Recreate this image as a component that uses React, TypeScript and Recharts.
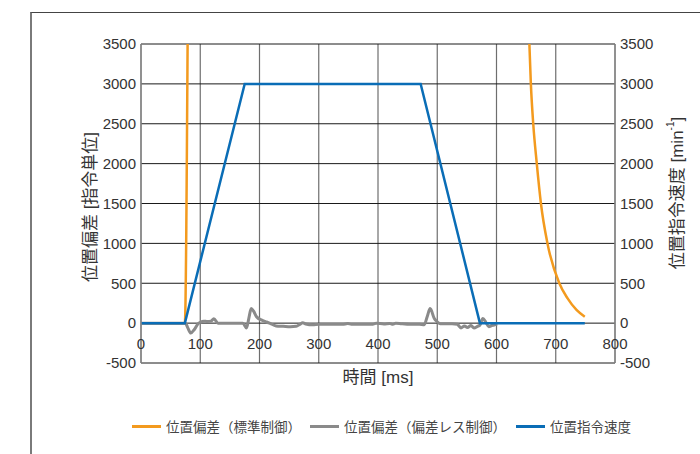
import React from 'react';
import { ComposedChart, Line, XAxis, YAxis, CartesianGrid, Legend } from 'recharts';

const xTicks = [0, 100, 200, 300, 400, 500, 600, 700, 800];
const yTicks = [-500, 0, 500, 1000, 1500, 2000, 2500, 3000, 3500];

// 位置偏差（標準制御）
const stdTime = [0, 74, 79, 80, 653, 655.5, 658, 662, 668, 675, 686, 706, 720, 735, 749];
const stdDev = [0, 0, 3900, null, 4100, 3500, 3000, 2500, 2000, 1500, 1000, 500, 310, 165, 80];

// 位置偏差（偏差レス制御）
const lessTime = [0, 75, 79, 84, 90, 96, 100, 106, 112, 118, 123, 130, 150, 172, 178, 182, 186, 190, 195, 204, 210, 217, 228, 240, 252, 262, 268, 273, 278, 290, 300, 320, 340, 349, 355, 370, 391, 397, 410, 420, 425, 430, 440, 455, 470, 478, 483, 488, 495, 500, 505, 515, 525, 534, 540, 546, 551, 557, 562, 568, 572, 577, 582, 587, 592, 596, 601];
const lessDev = [0, 0, -60, -125, -80, -10, 10, 25, 20, 25, 55, 0, 0, 0, -60, 60, 183, 150, 80, 37, 20, 0, -35, -40, -45, -40, -15, 5, -10, -20, -15, -15, -15, -5, -15, -15, -15, 0, -10, -5, -15, 0, -8, -15, -15, -20, 80, 183, 58, 17, -8, -8, -8, -15, -60, -35, -55, -30, -60, -40, -25, 58, 10, -45, -30, -25, -10];

// 位置指令速度
const cmdTime = [0, 74, 175, 472, 572, 749];
const cmdSpeed = [0, 0, 3000, 3000, 0, 0];

const seriesNames = ['位置偏差（標準制御）', '位置偏差（偏差レス制御）', '位置指令速度'];
const seriesColors = ['#F39A1E', '#8A8A8A', '#0A6DB6'];

const zip = (ts: number[], vs: (number | null)[]) => ts.map((t, i) => ({ t, v: vs[i] }));
const stdData = zip(stdTime, stdDev);
const lessData = zip(lessTime, lessDev);
const cmdData = zip(cmdTime, cmdSpeed);

const FONT = '"Liberation Sans", Arial, "Noto Sans CJK JP", sans-serif';
const TEXT = '#333';

const XTick = (props: any) => {
  const { x, y, payload } = props;
  return (
    <text x={x} y={y - 14} textAnchor="middle" fontSize={15} fill={TEXT} fontFamily={FONT}>
      {payload.value}
    </text>
  );
};

const XLabel = () => (
  <text x={378} y={383} textAnchor="middle" fontSize={17} fill={TEXT} fontFamily={FONT}>
    時間 [ms]
  </text>
);

const LeftLabel = () => (
  <text
    transform="translate(90,207) rotate(-90)"
    textAnchor="middle"
    dominantBaseline="central"
    fontSize={17}
    fill={TEXT}
    fontFamily={FONT}
  >
    位置偏差 [指令単位]
  </text>
);

const RightLabel = () => (
  <text
    transform="translate(677,193) rotate(-90)"
    textAnchor="middle"
    dominantBaseline="central"
    fontSize={17}
    fill={TEXT}
    fontFamily={FONT}
  >
    位置指令速度 [min<tspan dy={-7} fontSize={10}>-1</tspan>
    <tspan dy={7}>]</tspan>
  </text>
);

const legendLeft = [132, 310, 516];

const LegendContent = () => (
  <div style={{ position: 'relative', width: 700, height: 30 }}>
    {seriesNames.map((n, i) => (
      <div
        key={n}
        style={{
          position: 'absolute',
          left: legendLeft[i],
          top: 0,
          height: 30,
          display: 'flex',
          alignItems: 'center',
          whiteSpace: 'nowrap',
        }}
      >
        <span style={{ display: 'inline-block', width: 29, height: 3, background: seriesColors[i], marginRight: 5 }} />
        <span style={{ fontSize: 13.5, color: '#444', fontFamily: FONT }}>{n}</span>
      </div>
    ))}
  </div>
);

export default function App() {
  return (
    <div style={{ position: 'absolute', left: 0, top: 0, width: 700, height: 454, overflow: 'hidden', background: '#fff' }}>
      <div
        style={{
          position: 'absolute',
          left: 30,
          top: 12,
          width: 680,
          height: 460,
          borderLeft: '2px solid #7a7a7a',
          borderTop: '1px solid #444',
        }}
      />
      <div style={{ position: 'absolute', left: 0, top: 0 }}>
        <ComposedChart width={700} height={454} margin={{ top: 44, right: 0, bottom: 51, left: 0 }}>
          <CartesianGrid yAxisId="left" horizontal={false} stroke="#6e6e6e" strokeWidth={1.2} />
          <CartesianGrid yAxisId="left" vertical={false} stroke="#1a1a1a" strokeWidth={1} />
          <XAxis
            type="number"
            dataKey="t"
            domain={[0, 800]}
            ticks={xTicks}
            interval={0}
            allowDataOverflow
            axisLine={false}
            tickLine={false}
            tickSize={0}
            tickMargin={0}
            height={40}
            tick={<XTick />}
            label={<XLabel />}
          />
          <YAxis
            yAxisId="left"
            type="number"
            domain={[-500, 3500]}
            ticks={yTicks}
            interval={0}
            allowDataOverflow
            width={141}
            tickSize={0}
            tickMargin={5}
            tickLine={false}
            axisLine={{ stroke: '#8a8a8a', strokeWidth: 1.5 }}
            tick={{ fontSize: 15, fill: TEXT, fontFamily: FONT }}
            label={<LeftLabel />}
          />
          <YAxis
            yAxisId="right"
            orientation="right"
            type="number"
            domain={[-500, 3500]}
            ticks={yTicks}
            interval={0}
            allowDataOverflow
            width={85}
            tickSize={0}
            tickMargin={5}
            tickLine={false}
            axisLine={{ stroke: '#8a8a8a', strokeWidth: 1.5 }}
            tick={{ fontSize: 15, fill: TEXT, fontFamily: FONT, textAnchor: 'start' }}
            label={<RightLabel />}
          />
          <Legend
            layout="horizontal"
            verticalAlign="middle"
            align="center"
            wrapperStyle={{ top: 411, left: 0, width: 700, height: 30 }}
            content={<LegendContent />}
          />
          <Line
            yAxisId="left"
            data={stdData}
            dataKey="v"
            name={seriesNames[0]}
            type="monotone"
            stroke={seriesColors[0]}
            strokeWidth={2.5}
            dot={false}
            activeDot={false}
            connectNulls={false}
            isAnimationActive={false}
          />
          <Line
            yAxisId="left"
            data={lessData}
            dataKey="v"
            name={seriesNames[1]}
            type="monotone"
            stroke={seriesColors[1]}
            strokeWidth={3}
            strokeLinejoin="round"
            dot={false}
            activeDot={false}
            isAnimationActive={false}
          />
          <Line
            yAxisId="right"
            data={cmdData}
            dataKey="v"
            name={seriesNames[2]}
            type="linear"
            stroke={seriesColors[2]}
            strokeWidth={2.5}
            dot={false}
            activeDot={false}
            isAnimationActive={false}
          />
        </ComposedChart>
      </div>
    </div>
  );
}
